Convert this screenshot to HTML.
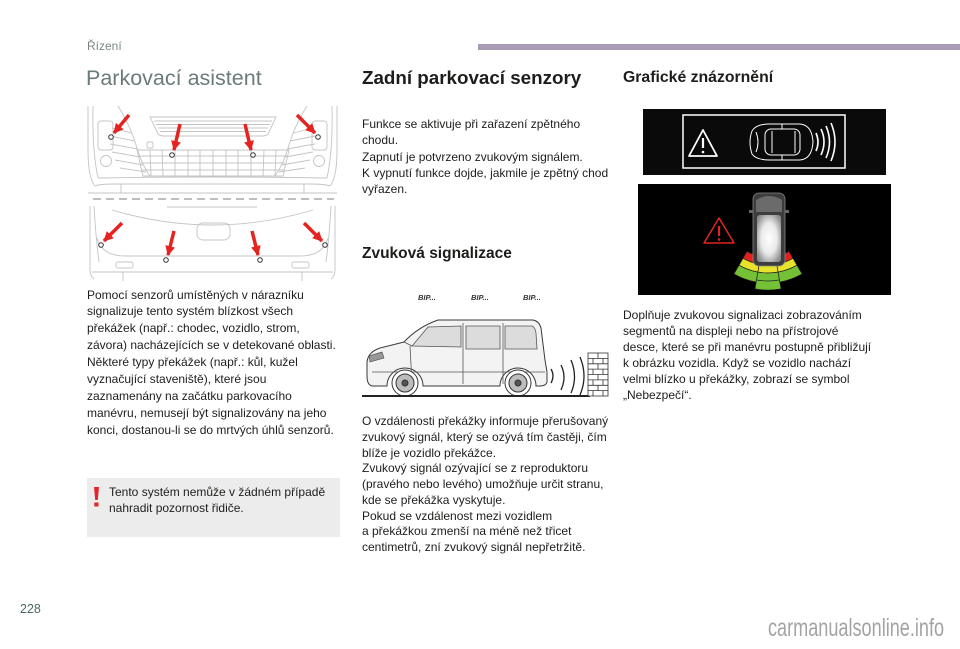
<!DOCTYPE html>
<html><head><meta charset="utf-8">
<style>
html,body{margin:0;padding:0;background:#fff;}
body{width:960px;height:649px;position:relative;overflow:hidden;font-family:"Liberation Sans",Arial,sans-serif;color:#1d1d1b;}
.t{position:absolute;white-space:nowrap;}
.p{position:absolute;font-size:12px;white-space:nowrap;color:#1d1d1b;}
svg{position:absolute;left:0;top:0;}
</style></head><body>
<svg width="960" height="649" viewBox="0 0 960 649" xmlns="http://www.w3.org/2000/svg">
<defs>
<marker id="ah" viewBox="0 0 10 10" refX="9" refY="5" markerWidth="10" markerHeight="10" markerUnits="userSpaceOnUse" orient="auto"><path d="M0,0 L10,5 L0,10 Z" fill="#e52421"/></marker>
<radialGradient id="glow" cx="50%" cy="50%" r="60%"><stop offset="0" stop-color="#ffffff"/><stop offset="0.55" stop-color="#eaeaea"/><stop offset="1" stop-color="#8e8e8e"/></radialGradient>
</defs>
<!-- purple bar -->
<rect x="478" y="44" width="482" height="6" fill="#a99ab6"/>

<!-- FRONT BUMPER -->
<g stroke="#c4c4c4" stroke-width="0.9" fill="none">
<path d="M88,106 L88,150 Q88,178 95,186"/>
<path d="M93,106 Q92,150 98,178"/>
<path d="M337,106 L337,150 Q337,178 330,186"/>
<path d="M332,106 Q333,150 327,178"/>
<path d="M118,106 Q130,125 136,145 Q142,165 150,176"/>
<path d="M307,106 Q295,125 289,145 Q283,165 275,176"/>
<path d="M95,186 Q100,184 115,184 L310,184 Q325,184 330,186"/>
<path d="M98,178 Q150,177 213,177 Q276,177 327,178"/>
<path d="M88,193 L337,193 M121,184 L121,193 M304,184 L304,193"/>
<path d="M150,117 L276,117 L268,134 Q266,136 262,136 L164,136 Q160,136 158,134 Z"/>
<path d="M154,121 L272,121 M156,124.5 L270,124.5 M158,128 L268,128 M160,131.5 L266,131.5"/>
<path d="M137,150 L289,150 L283,176 L143,176 Z"/>
<path d="M139,156 L287,156 M141,163 L285,163 M142,170 L284,170"/>
<path d="M150,150 L151,176 M162,150 L163,176 M175,150 L175,176 M188,150 L188,176 M200,150 L200,176 M213,150 L213,176 M226,150 L226,176 M238,150 L238,176 M251,150 L251,176 M264,150 L263,176 M276,150 L275,176"/>
<path d="M112,128 L132,133 M110,136 L135,141 M110,144 L138,149 M112,152 L140,157 M115,160 L143,165 M120,168 L146,172"/>
<path d="M313,128 L293,133 M315,136 L290,141 M315,144 L287,149 M313,152 L285,157 M310,160 L282,165 M305,168 L279,172"/>
<rect x="98" y="121" width="15" height="29" rx="3"/>
<rect x="312" y="121" width="15" height="29" rx="3"/>
<circle cx="106" cy="161" r="5.5"/>
<circle cx="319" cy="161" r="5.5"/>
<rect x="147" y="142" width="6" height="6" rx="1.5"/>
</g>
<!-- dashed separator -->
<line x1="93" y1="199" x2="334" y2="199" stroke="#a9a9a9" stroke-width="1.5" stroke-dasharray="8 5"/>
<!-- REAR BUMPER -->
<g stroke="#c4c4c4" stroke-width="0.9" fill="none">
<path d="M90,206 L90,270 Q90,276 94,279 M335,206 L335,270 Q335,276 331,279"/>
<path d="M94,206 Q96,240 99,262 M331,206 Q329,240 326,262"/>
<path d="M167,207 L257,207"/>
<path d="M112,210 Q213,240 313,210"/>
<rect x="197" y="223" width="33" height="17" rx="6"/>
<path d="M97,238 Q102,256 125,256 L300,256 Q323,256 328,238"/>
<rect x="116" y="262" width="17" height="6" rx="2"/>
<rect x="292" y="262" width="17" height="6" rx="2"/>
<path d="M92,272 L333,272 M123,272 L123,281 M302,272 L302,281"/>
</g>
<!-- sensors -->
<g fill="#fff" stroke="#333" stroke-width="1">
<circle cx="111" cy="137" r="2.3"/><circle cx="172" cy="155" r="2.3"/><circle cx="253" cy="155" r="2.3"/><circle cx="318" cy="137" r="2.3"/>
<circle cx="101" cy="245" r="2.3"/><circle cx="166" cy="260" r="2.3"/><circle cx="260" cy="260" r="2.3"/><circle cx="325" cy="245" r="2.3"/>
</g>
<!-- arrows -->
<g stroke="#e52421" stroke-width="3.5" marker-end="url(#ah)">
<line x1="129" y1="115" x2="114" y2="133"/>
<line x1="180" y1="124" x2="174" y2="150"/>
<line x1="245" y1="124" x2="251" y2="150"/>
<line x1="297" y1="115" x2="315" y2="133"/>
<line x1="122" y1="223" x2="104" y2="241"/>
<line x1="174" y1="231" x2="168" y2="255"/>
<line x1="252" y1="231" x2="258" y2="255"/>
<line x1="304" y1="223" x2="322" y2="241"/>
</g>

<!-- warning box -->
<rect x="87" y="478" width="253" height="59" fill="#ececec"/>
<path d="M94,487 L99,487 L97.8,500 L95.2,500 Z" fill="#e3262c"/>
<rect x="94.3" y="502.5" width="4.2" height="4" fill="#e3262c"/>

<!-- MIDDLE VAN -->
<g font-family="Liberation Sans, Arial, sans-serif" font-size="7.5" font-style="italic" font-weight="bold" fill="#333">
<text x="418" y="300">BIP...</text><text x="471" y="300">BIP...</text><text x="523" y="300">BIP...</text>
</g>
<g stroke="#3a3a3a" stroke-width="1" fill="#f3f3f3">
<path d="M367,376 L367,362 Q368,352 380,348 L404,342 Q418,327 438,320 L533,320 Q539,321 541,328 L545,360 L547,372 L547,382 Q546,386 540,386 L536,386 A18,18 0 0 0 500,386 L423,386 A18,18 0 0 0 387,386 L372,386 Q367,385 367,376 Z"/>
</g>
<g stroke="#555" stroke-width="0.8" fill="#dcdcdc">
<path d="M412,346 L428,327 L461,326 L461,347 Z"/>
<path d="M466,326 L500,326 L500,349 L466,349 Z"/>
<path d="M505,326 L532,326 Q535,327 536,333 L537,349 L505,349 Z"/>
</g>
<g stroke="#555" stroke-width="0.8" fill="none">
<path d="M463,323 L463,384 M503,323 L503,384 M410,346 L412,384"/>
<path d="M372,372 L545,372"/>
<path d="M404,342 L412,346"/>
</g>
<path d="M369,356 L382,352 L384,358 L370,362 Z" fill="#999" stroke="#444" stroke-width="0.6"/>
<g stroke="#333" stroke-width="1">
<circle cx="405" cy="383" r="13" fill="#fff"/><circle cx="405" cy="383" r="9" fill="#bdbdbd"/><circle cx="405" cy="383" r="3" fill="#555"/>
<circle cx="518" cy="383" r="13" fill="#fff"/><circle cx="518" cy="383" r="9" fill="#bdbdbd"/><circle cx="518" cy="383" r="3" fill="#555"/>
</g>
<line x1="362" y1="396" x2="590" y2="396" stroke="#222" stroke-width="2"/>
<g stroke="#222" stroke-width="1.3" fill="none">
<path d="M551,369 Q555,376 551,383"/>
<path d="M561,365 Q567,377 561,390"/>
<path d="M571,360 Q578,377 571,393"/>
<path d="M580,357 Q588,376 580,395"/>
</g>
<g stroke="#333" stroke-width="0.8" fill="none">
<rect x="588" y="353" width="20" height="43" fill="#fff"/>
<path d="M588,358.4 L608,358.4 M588,363.8 L608,363.8 M588,369.1 L608,369.1 M588,374.5 L608,374.5 M588,379.9 L608,379.9 M588,385.3 L608,385.3 M588,390.6 L608,390.6"/>
<path d="M598,353 L598,358.4 M593,358.4 L593,363.8 M603,358.4 L603,363.8 M598,363.8 L598,369.1 M593,369.1 L593,374.5 M603,369.1 L603,374.5 M598,374.5 L598,379.9 M593,379.9 L593,385.3 M603,379.9 L603,385.3 M598,385.3 L598,390.6 M593,390.6 L593,396 M603,390.6 L603,396"/>
</g>

<!-- RIGHT PANEL 1 -->
<rect x="643" y="109" width="243" height="66" fill="#0a0a0a"/>
<rect x="683" y="115" width="162" height="53" fill="none" stroke="#fff" stroke-width="1.5"/>
<path d="M703,130 L689,156 L717,156 Z" fill="none" stroke="#fff" stroke-width="1.8" stroke-linejoin="round"/>
<line x1="703" y1="138" x2="703" y2="148" stroke="#fff" stroke-width="2.2"/>
<circle cx="703" cy="152" r="1.3" fill="#fff"/>
<g stroke="#fff" stroke-width="1" fill="none">
<path d="M752,131 Q748,142 752,154 Q756,160 770,160 L800,160 Q812,159 813,142 Q812,125 800,124 L770,124 Q756,124 752,131 Z"/>
<rect x="765" y="129" width="35" height="26" rx="6"/>
<path d="M772,131 L772,153 M795,131 L795,153 M782,124 L782,129 M782,155 L782,160"/>
<path d="M756,132 Q760,142 756,152"/>
</g>
<g stroke="#fff" stroke-width="1.6" fill="none">
<path d="M816,133 Q820,142 816,151"/>
<path d="M821,129 Q827,142 821,155"/>
<path d="M826,126 Q833,142 826,158"/>
<path d="M831,123 Q839,142 831,161"/>
</g>

<!-- RIGHT PANEL 2 -->
<rect x="638" y="184" width="253" height="111" fill="#000"/>
<path d="M719,218 L704,243 L734,243 Z" fill="none" stroke="#e0261f" stroke-width="1.5" stroke-linejoin="round"/>
<line x1="719" y1="226" x2="719" y2="236" stroke="#e0261f" stroke-width="2.2"/>
<circle cx="719" cy="239.5" r="1.3" fill="#e0261f"/>
<g stroke="#222" stroke-width="0.7">
<path d="M747,251.4 A42,42 0 0 0 760.7,256.4 L759.3,264.2 A50,50 0 0 1 743,258.3 Z" fill="#e3201b"/>
<path d="M760.7,256.4 A42,42 0 0 0 775.3,256.4 L776.7,264.2 A50,50 0 0 1 759.3,264.2 Z" fill="#e3201b"/>
<path d="M775.3,256.4 A42,42 0 0 0 789,251.4 L793,258.3 A50,50 0 0 1 776.7,264.2 Z" fill="#e3201b"/>
<path d="M743,258.3 A50,50 0 0 0 759.3,264.2 L757.9,272.1 A58,58 0 0 1 739,265.2 Z" fill="#e6e32a"/>
<path d="M759.3,264.2 A50,50 0 0 0 776.7,264.2 L778.1,272.1 A58,58 0 0 1 757.9,272.1 Z" fill="#e6e32a"/>
<path d="M776.7,264.2 A50,50 0 0 0 793,258.3 L797,265.2 A58,58 0 0 1 778.1,272.1 Z" fill="#e6e32a"/>
<path d="M739,265.2 A58,58 0 0 0 757.9,272.1 L756.2,282 A68,68 0 0 1 734,273.9 Z" fill="#74c136"/>
<path d="M757.9,272.1 A58,58 0 0 0 778.1,272.1 L781,288.9 A75,75 0 0 1 755,288.9 Z" fill="#74c136"/>
<path d="M778.1,272.1 A58,58 0 0 0 797,265.2 L802,273.9 A68,68 0 0 1 779.8,282 Z" fill="#74c136"/>
</g>
<path d="M756.8,280 A66,66 0 0 0 779.2,280" stroke="#222" stroke-width="0.7" fill="none"/>
<rect x="753" y="193" width="32" height="73" rx="6" fill="#3d3d3d" stroke="#888" stroke-width="0.8"/>
<path d="M756,200 Q769,192 782,200 L782,212 L756,212 Z" fill="#6b6b6b"/>
<rect x="749" y="210" width="4" height="3" fill="#666"/>
<rect x="785" y="210" width="4" height="3" fill="#666"/>
<rect x="757" y="215" width="24" height="47" rx="3" fill="url(#glow)"/>
</svg>

<div class="t" style="left:87px;top:40px;font-size:12px;line-height:12px;color:#7a8686;">Řízení</div>
<div class="t" style="left:86px;top:68px;font-size:21.5px;line-height:21.5px;color:#6b7a7a;">Parkovací asistent</div>
<div class="t" style="left:362px;top:68.5px;font-size:18.8px;line-height:18.8px;font-weight:bold;">Zadní parkovací senzory</div>
<div class="t" style="left:623px;top:69.5px;font-size:15.8px;line-height:15.8px;font-weight:bold;">Grafické znázornění</div>
<div class="t" style="left:362px;top:245.5px;font-size:15.5px;line-height:15.5px;font-weight:bold;">Zvuková signalizace</div>

<div class="p" style="left:87px;top:286.5px;line-height:16.9px;">Pomocí senzorů umístěných v nárazníku<br>signalizuje tento systém blízkost všech<br>překážek (např.: chodec, vozidlo, strom,<br>závora) nacházejících se v detekované oblasti.<br>Některé typy překážek (např.: kůl, kužel<br>vyznačující staveniště), které jsou<br>zaznamenány na začátku parkovacího<br>manévru, nemusejí být signalizovány na jeho<br>konci, dostanou-li se do mrtvých úhlů senzorů.</div>

<div class="p" style="left:109px;top:484px;line-height:16px;">Tento systém nemůže v žádném případě<br>nahradit pozornost řidiče.</div>

<div class="p" style="left:362px;top:116px;line-height:16.25px;">Funkce se aktivuje při zařazení zpětného<br>chodu.<br>Zapnutí je potvrzeno zvukovým signálem.<br>K vypnutí funkce dojde, jakmile je zpětný chod<br>vyřazen.</div>

<div class="p" style="left:362px;top:414px;line-height:15.75px;">O vzdálenosti překážky informuje přerušovaný<br>zvukový signál, který se ozývá tím častěji, čím<br>blíže je vozidlo překážce.<br>Zvukový signál ozývající se z reproduktoru<br>(pravého nebo levého) umožňuje určit stranu,<br>kde se překážka vyskytuje.<br>Pokud se vzdálenost mezi vozidlem<br>a překážkou zmenší na méně než třicet<br>centimetrů, zní zvukový signál nepřetržitě.</div>

<div class="p" style="left:623px;top:307px;line-height:16px;">Doplňuje zvukovou signalizaci zobrazováním<br>segmentů na displeji nebo na přístrojové<br>desce, které se při manévru postupně přibližují<br>k obrázku vozidla. Když se vozidlo nachází<br>velmi blízko u překážky, zobrazí se symbol<br>„Nebezpečí“.</div>

<div class="t" style="left:20px;top:603px;font-size:12.5px;line-height:12.5px;color:#4f6666;">228</div>
<div class="t" style="left:768px;top:616px;font-size:25px;line-height:25px;color:#a3a3a3;transform:scaleX(0.724);transform-origin:0 0;">carmanualsonline.info</div>
</body></html>
